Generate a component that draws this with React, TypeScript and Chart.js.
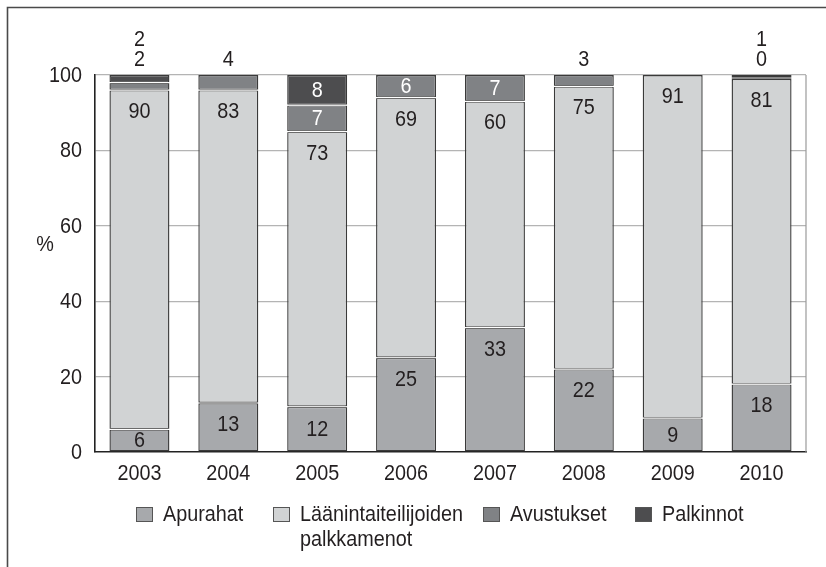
import React, { useEffect, useRef } from "react";
import { Chart, registerables } from "chart.js";

Chart.register(...registerables);

const years = ["2003", "2004", "2005", "2006", "2007", "2008", "2009", "2010"];
const apurahat = [6, 13, 12, 25, 33, 22, 9, 18];
const laanintaiteilijoiden = [90, 83, 73, 69, 60, 75, 91, 81];
const avustukset = [2, 4, 7, 6, 7, 3, 0, 0.4];
const palkinnot = [2, 0, 8, 0, 0, 0, 0, 0.6];
const yTicks = [0, 20, 40, 60, 80, 100];
const seriesNames = ["Apurahat", "Läänintaiteilijoiden\npalkkamenot", "Avustukset", "Palkinnot"];
const seriesColors = ["#a7a9ac", "#d1d3d4", "#808285", "#4d4d4f"];

const FONT = '"Liberation Sans", Arial, sans-serif';
const FS = 22;
const SX = 0.9; // horizontal condensation of the text
const TEXT = "#231f20";
const EDGE = "#3a3a3a";

function txt(ctx: CanvasRenderingContext2D, s: string, x: number, y: number, align: CanvasTextAlign, color: string) {
  ctx.save();
  ctx.font = `${FS}px ${FONT}`;
  ctx.textBaseline = "middle";
  ctx.textAlign = align;
  ctx.fillStyle = color;
  ctx.translate(x, y);
  ctx.scale(SX, 1);
  ctx.fillText(s, 0, 0);
  ctx.restore();
}

const framePlugin = {
  id: "frame",
  beforeDraw(chart: any) {
    const ctx = chart.ctx;
    ctx.save();
    ctx.fillStyle = "#ffffff";
    ctx.fillRect(0, 0, chart.width, chart.height);
    ctx.strokeStyle = "#4a4a4a";
    ctx.lineWidth = 1.6;
    ctx.beginPath();
    ctx.moveTo(7.5, chart.height + 2);
    ctx.lineTo(7.5, 7.5);
    ctx.lineTo(chart.width + 2, 7.5);
    ctx.stroke();
    ctx.restore();
  },
  beforeDatasetsDraw(chart: any) {
    const ctx = chart.ctx;
    const a = chart.chartArea;
    ctx.save();
    ctx.strokeStyle = "#9a9a9a";
    ctx.lineWidth = 1.2;
    ctx.beginPath();
    ctx.moveTo(a.right, a.top);
    ctx.lineTo(a.right, a.bottom);
    ctx.stroke();
    ctx.restore();
    // tick labels
    const ys = chart.scales.y;
    yTicks.forEach((v) => txt(ctx, String(v), a.left - 13, ys.getPixelForValue(v) + 1, "right", TEXT));
    const xs = chart.scales.x;
    years.forEach((yr, i) => txt(ctx, yr, xs.getPixelForValue(i), a.bottom + 22, "center", TEXT));
    // "%" axis label
    txt(ctx, "%", 45, ys.getPixelForValue(55), "center", TEXT);
  },
};

const segPlugin = {
  id: "segLabels",
  afterDatasetsDraw(chart: any) {
    const ctx = chart.ctx;
    ctx.save();
    // white separators between stacked segments
    chart.data.datasets.forEach((ds: any, di: number) => {
      if (di === 0) return;
      const meta = chart.getDatasetMeta(di);
      meta.data.forEach((bar: any, i: number) => {
        const v = ds.data[i];
        if (!v) return;
        const p = bar.getProps(["x", "y", "base", "width"], true);
        if (Math.abs(p.base - p.y) < 3) return;
        ctx.strokeStyle = "#ffffff";
        ctx.lineWidth = 1.2;
        ctx.beginPath();
        ctx.moveTo(p.x - p.width / 2 - 1, p.base);
        ctx.lineTo(p.x + p.width / 2 + 1, p.base);
        ctx.stroke();
      });
    });
    ctx.restore();
    chart.data.datasets.forEach((ds: any, di: number) => {
      const meta = chart.getDatasetMeta(di);
      meta.data.forEach((bar: any, i: number) => {
        const v = ds.data[i];
        if (!v) return;
        const p = bar.getProps(["x", "y", "base"], true);
        const top = Math.min(p.y, p.base);
        const h = Math.abs(p.base - p.y);
        const s = String(Math.round(v));
        if (v >= 5) {
          const cy = h > 46 ? top + 21 : top + h / 2;
          txt(ctx, s, p.x, cy + 1, "center", di >= 2 ? "#ffffff" : TEXT);
        } else {
          const cy = chart.chartArea.top - (di === 3 ? 35 : 15);
          txt(ctx, s, p.x, cy, "center", TEXT);
        }
      });
    });
  },
  afterDraw(chart: any) {
    const ctx = chart.ctx;
    const xs = [136, 273, 483, 635];
    const cy = 515;
    seriesNames.forEach((name, i) => {
      ctx.save();
      ctx.fillStyle = seriesColors[i];
      ctx.fillRect(xs[i], cy - 8, 17, 15);
      ctx.strokeStyle = "#555";
      ctx.lineWidth = 1;
      ctx.strokeRect(xs[i] + 0.5, cy - 7.5, 16, 14);
      ctx.restore();
      name.split("\n").forEach((ln, k) => txt(ctx, ln, xs[i] + 27, cy + k * 25, "left", TEXT));
    });
  },
};

export default function App() {
  const ref = useRef<HTMLCanvasElement | null>(null);
  useEffect(() => {
    document.body.style.margin = "0";
    const canvas = ref.current!;
    const mk = (label: string, data: number[], color: string) => ({
      label,
      data,
      backgroundColor: color,
      borderColor: EDGE,
      borderWidth: 1.4,
      borderSkipped: false,
      inflateAmount: 0,
      barPercentage: 0.675,
      categoryPercentage: 1,
    });
    const chart = new Chart(canvas, {
      type: "bar",
      data: {
        labels: years,
        datasets: [
          mk(seriesNames[0], apurahat, seriesColors[0]),
          mk(seriesNames[1], laanintaiteilijoiden, seriesColors[1]),
          mk(seriesNames[2], avustukset, seriesColors[2]),
          mk(seriesNames[3], palkinnot, seriesColors[3]),
        ],
      },
      options: {
        responsive: false,
        animation: false,
        devicePixelRatio: 1,
        layout: { padding: { top: 75, right: 20, bottom: 75, left: 0 } },
        plugins: { legend: { display: false }, tooltip: { enabled: false }, title: { display: false } },
        scales: {
          x: {
            stacked: true,
            grid: { display: false, drawTicks: false },
            border: { color: "#222", width: 1.6 },
            ticks: { display: false },
            afterFit: (s: any) => { s.height = 40; },
          },
          y: {
            stacked: true,
            min: 0,
            max: 100,
            afterBuildTicks: (s: any) => { s.ticks = yTicks.map((v) => ({ value: v })); },
            grid: {
              drawTicks: false,
              color: (c: any) => (c.tick && c.tick.value === 0 ? "rgba(0,0,0,0)" : "#b4b4b4"),
              lineWidth: 1.2,
            },
            border: { color: "#222", width: 1.6 },
            ticks: { display: false },
            afterFit: (s: any) => { s.width = 95; },
          },
        },
      },
      plugins: [framePlugin, segPlugin],
    } as any);
    return () => chart.destroy();
  }, []);
  return <canvas ref={ref} width={826} height={567} style={{ display: "block" }} />;
}
